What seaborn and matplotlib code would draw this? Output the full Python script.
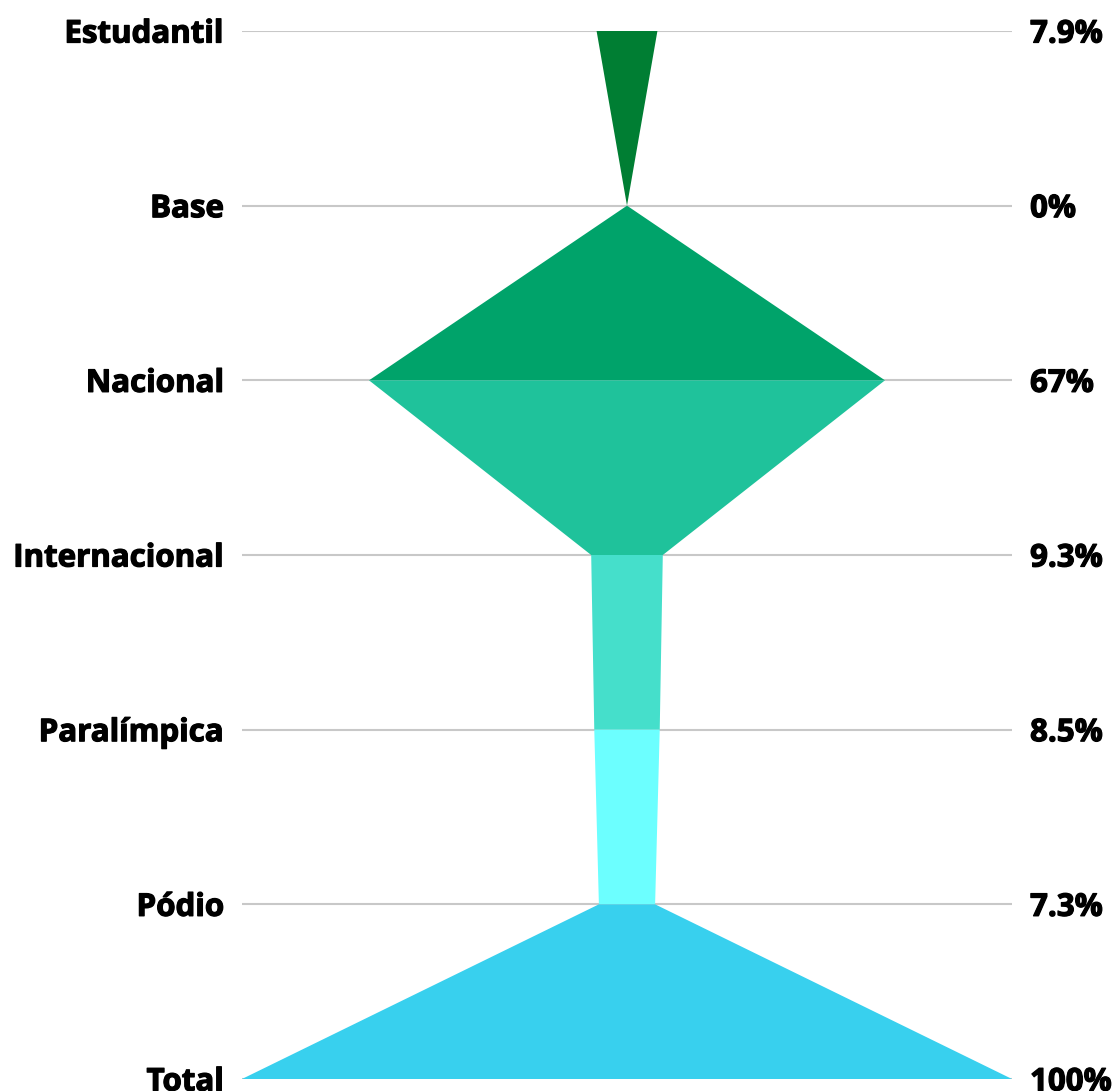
import matplotlib
matplotlib.use("Agg")
import matplotlib.pyplot as plt
import matplotlib.patheffects as pe
import seaborn as sns
import numpy as np

categories = ["Estudantil", "Base", "Nacional", "Internacional", "Paralímpica", "Pódio", "Total"]
values = [7.9, 0, 67, 9.3, 8.5, 7.3, 100]
value_labels = ["7.9%", "0%", "67%", "9.3%", "8.5%", "7.3%", "100%"]
segment_colors = ["#007E33", "#00A36A", "#1FC29B", "#45DFCB", "#6CFFFF", "#38D0EE"]

sns.set_theme(style="white")
plt.rcParams["font.family"] = ["Open Sans", "DejaVu Sans"]

W, H = 1114, 1091
fig = plt.figure(figsize=(W / 100, H / 100), dpi=100)
ax = fig.add_axes([242 / W, 1 - 1079 / H, (1012 - 242) / W, (1079 - 31) / H])

ypos = np.arange(len(categories))
for i in range(len(categories) - 1):
    a, b = values[i] / 2, values[i + 1] / 2
    ax.fill([-a, a, b, -b], [ypos[i], ypos[i], ypos[i + 1], ypos[i + 1]],
            color=segment_colors[i], lw=0, zorder=2)

ax.set_xlim(-50, 50)
ax.set_ylim(ypos[-1], ypos[0])
for y in ypos:
    ax.axhline(y, color="#c8c8c8", lw=1.5, zorder=1)

FS = 22.5
heavy = [pe.withStroke(linewidth=0.9, foreground="black")]
ax.set_yticks(ypos)
ax.set_yticklabels(categories, fontsize=FS, fontweight="bold", color="black")
ax.tick_params(axis="y", length=0, pad=13)
ax.set_xticks([])

ax2 = ax.twinx()
ax2.set_ylim(ax.get_ylim())
ax2.set_yticks(ypos)
ax2.set_yticklabels(value_labels, fontsize=FS, fontweight="bold", color="black")
ax2.tick_params(axis="y", length=0, pad=13)

for a_ in (ax, ax2):
    for s in a_.spines.values():
        s.set_visible(False)
    a_.grid(False)
    for t in a_.get_yticklabels():
        t.set_path_effects(heavy)

fig.savefig("out.png", dpi=100, facecolor="white")
